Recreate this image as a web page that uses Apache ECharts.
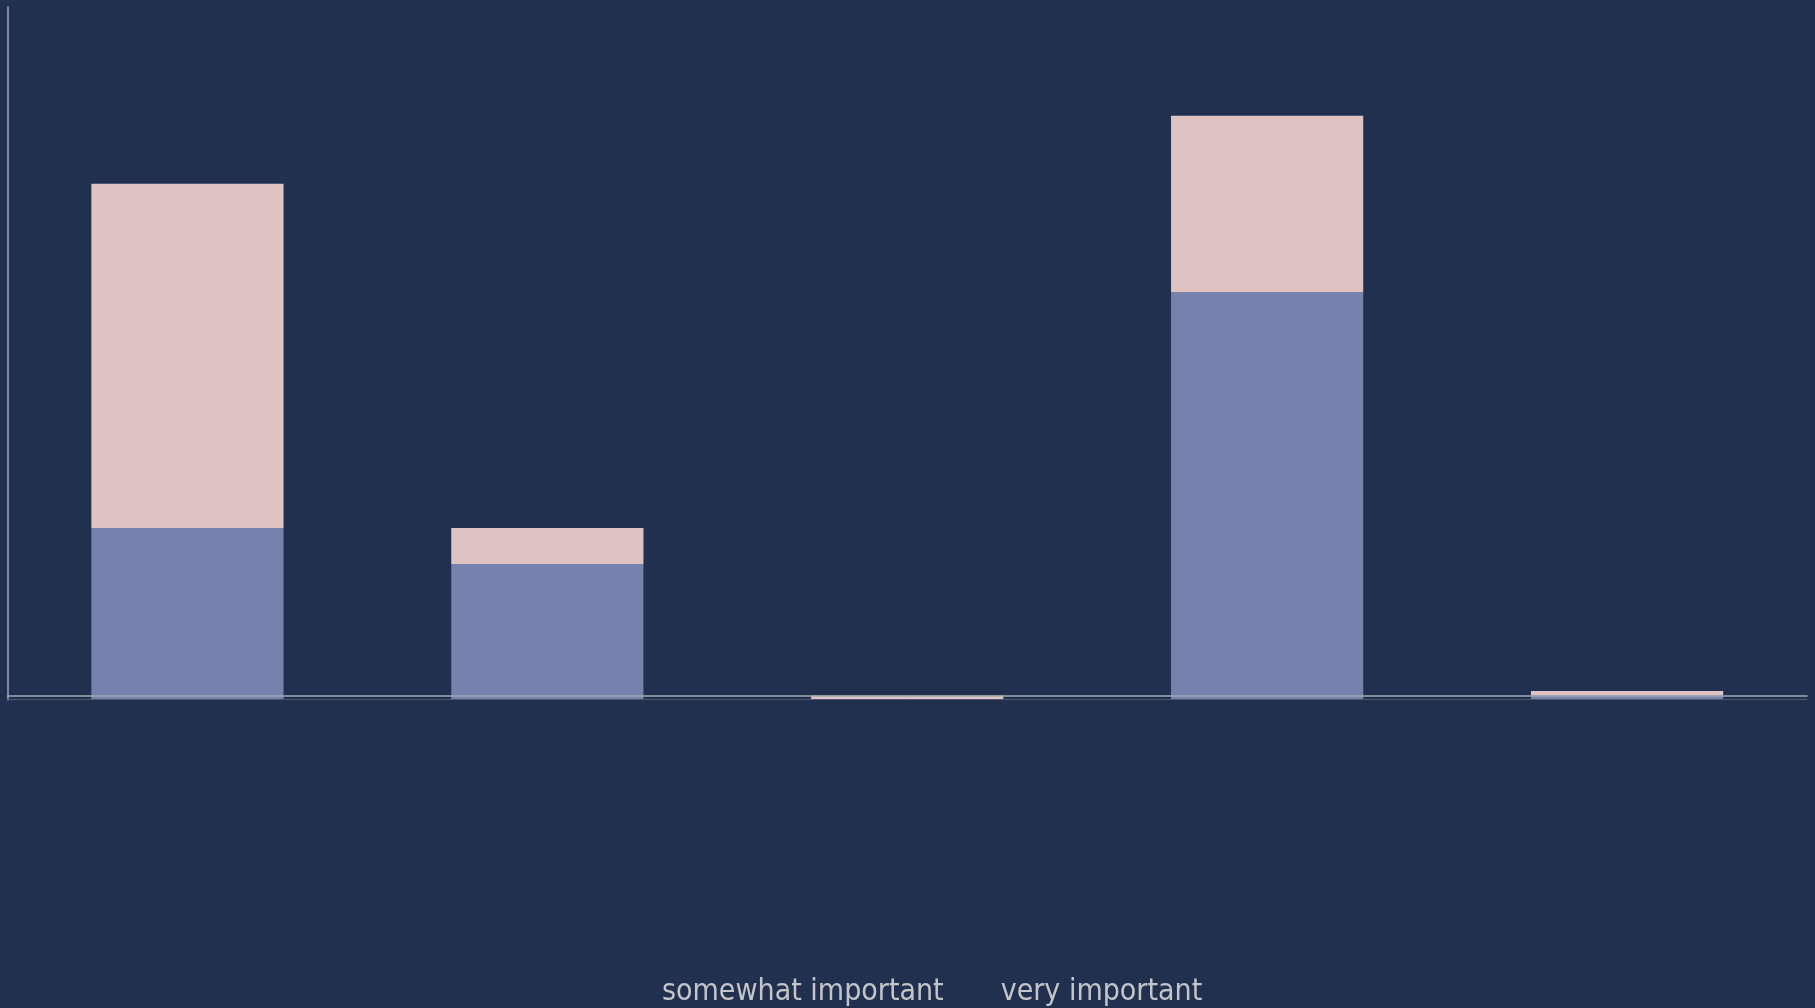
<!DOCTYPE html>
<html>
<head>
<meta charset="utf-8">
<script src="https://cdn.jsdelivr.net/npm/echarts@6/dist/echarts.min.js"></script>
<style>
  html, body { margin: 0; padding: 0; background: #21304e; }
  #chart { width: 1815px; height: 1008px; }
</style>
</head>
<body>
<div id="chart"></div>
<script>
const categories = ['Category 1', 'Category 2', 'Category 3', 'Category 4', 'Category 5'];
const seriesNames = ['somewhat important', 'very important'];
const somewhatImportant = [38, 30, 0, 90, 1];
const veryImportant = [76, 8, 1, 39, 1];
const yMax = 153;

const chart = echarts.init(document.getElementById('chart'), null, { renderer: 'canvas' });
const bright = '#a3a8b3';
const dim = '#4f5870';

chart.setOption({
  backgroundColor: '#21304e',
  animation: false,
  grid: { left: 7.5, right: 8, top: 7, bottom: 308, containLabel: false },
  legend: {
    data: seriesNames,
    icon: 'none',
    itemWidth: 0,
    itemHeight: 0,
    itemGap: 52,
    left: 652,
    top: 972,
    selectedMode: false,
    textStyle: { color: '#c4c5c9', fontSize: 30, fontFamily: '"DejaVu Sans Condensed", "DejaVu Sans", sans-serif' }
  },
  xAxis: [
    {
      type: 'category', data: categories, position: 'bottom', offset: -1,
      axisLine: { show: true, lineStyle: { color: dim, width: 1 } },
      axisTick: { show: false }, axisLabel: { show: false }, splitLine: { show: false }, z: 10
    },
    {
      type: 'category', data: categories, position: 'bottom', offset: -4.5,
      axisLine: { show: true, lineStyle: { color: bright, width: 1.5 } },
      axisTick: { show: false }, axisLabel: { show: false }, splitLine: { show: false }, z: 10
    }
  ],
  yAxis: {
    type: 'value', min: 0, max: yMax,
    axisLine: { show: true, lineStyle: { color: bright, width: 1.5 } },
    axisTick: { show: false }, axisLabel: { show: false }, splitLine: { show: false }
  },
  series: [
    {
      name: seriesNames[0], type: 'bar', stack: 'total', xAxisIndex: 0,
      data: somewhatImportant, barWidth: '53.4%',
      itemStyle: { color: '#7681ad' }
    },
    {
      name: seriesNames[1], type: 'bar', stack: 'total', xAxisIndex: 0,
      data: veryImportant, barWidth: '53.4%',
      itemStyle: { color: '#dfc3c3' }
    }
  ]
});
</script>
</body>
</html>
